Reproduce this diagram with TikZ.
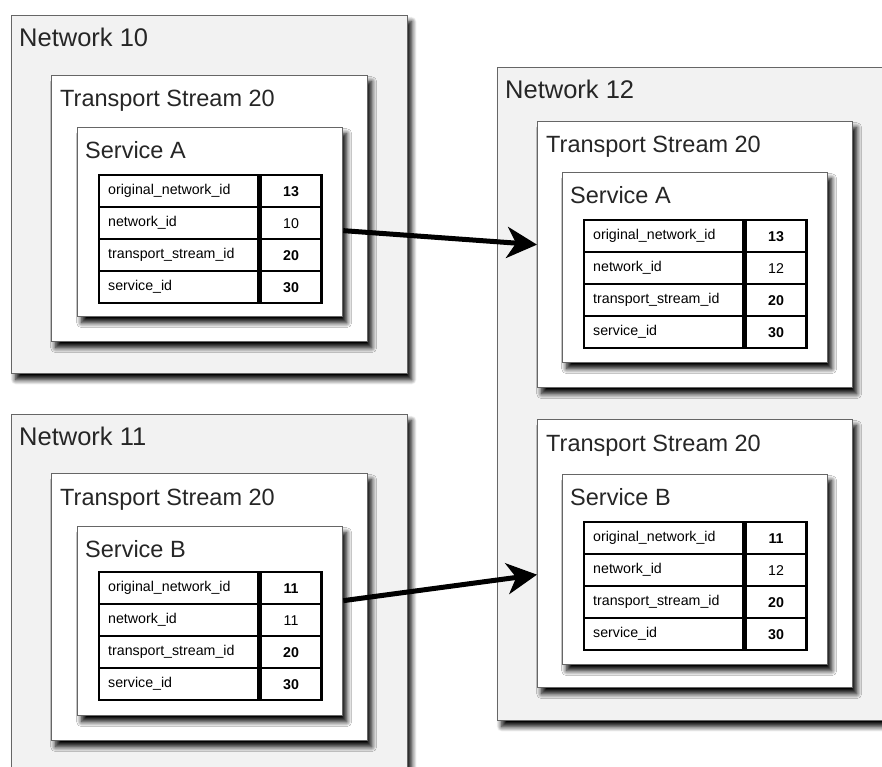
\documentclass[tikz,border=0pt]{standalone}
\usepackage{fontspec}
\setmainfont{Liberation Sans}
\usetikzlibrary{arrows.meta, shadows.blur}

\definecolor{netfill}{HTML}{F2F2F2}
\definecolor{boxedge}{HTML}{666666}

% one id table: name, north west corner, then the four values
\newcommand{\idtable}[6]{%
  \foreach[count=\i] \key/\val in {original\_network\_id/\textbf{#3}, network\_id/#4,
      transport\_stream\_id/\textbf{#5}, service\_id/\textbf{#6}} {
    \node[keycell, yshift={-32*(\i-1)}] (#1-k\i) at (#2) {\key};
    \node[valcell] (#1-v\i) at (#1-k\i.north east) {\val};
  }
}

\begin{document}
\begin{tikzpicture}[x=1pt, y=-1pt,
    shade/.style={blur shadow={shadow xshift=4pt, shadow yshift=-6pt,
        shadow blur radius=5pt, shadow blur steps=10, shadow opacity=100}},
    netbox/.style={draw=boxedge, line width=1.3pt, fill=netfill, shade,
        anchor=north west, inner sep=0pt},
    inbox/.style={draw=boxedge, line width=1.3pt, fill=white, shade,
        anchor=north west, inner sep=0pt},
    title/.style={anchor=base west, inner sep=0pt,
        font=\fontsize{23.5}{28}\selectfont, text=black!85},
    nettitle/.style={title, font=\fontsize{25.5}{30}\selectfont},
    keycell/.style={draw, line width=2.4pt, fill=white, anchor=north west,
        minimum width=159pt, minimum height=32pt, inner xsep=9pt,
        text width=141pt, align=left, font=\fontsize{14.2}{17}\selectfont},
    valcell/.style={draw, line width=2.4pt, fill=white, anchor=north west,
        minimum width=61pt, minimum height=32pt,
        font=\fontsize{14.2}{17}\selectfont},
    link/.style={line width=5pt, -{Stealth[length=30pt, width=31pt, inset=9pt]}}]

  \useasboundingbox (0,0) rectangle (882,767);
  \clip (0,0) rectangle (882,767);

  % left side
  \node[netbox, minimum width=396pt, minimum height=358pt] (net10) at (11,15) {};
  \node[nettitle] (net10-t) at ([xshift=8pt, yshift=-31.5pt]net10.north west) {Network 10};
  \node[inbox, minimum width=316pt, minimum height=266pt] (ts10) at (51,75) {};
  \node[title] (ts10-t) at ([xshift=9pt, yshift=-32pt]ts10.north west) {Transport Stream 20};
  \node[inbox, minimum width=265pt, minimum height=189pt] (svcA) at (77,127) {};
  \node[title] (svcA-t) at ([xshift=8pt, yshift=-31.5pt]svcA.north west) {Service A};
  \idtable{tabA}{98,174}{13}{10}{20}{30}

  \node[netbox, minimum width=396pt, minimum height=400pt] (net11) at (11,414) {};
  \node[nettitle] (net11-t) at ([xshift=8pt, yshift=-31.5pt]net11.north west) {Network 11};
  \node[inbox, minimum width=316pt, minimum height=267pt] (ts11) at (51,473) {};
  \node[title] (ts11-t) at ([xshift=9pt, yshift=-32pt]ts11.north west) {Transport Stream 20};
  \node[inbox, minimum width=265pt, minimum height=189pt] (svcB) at (77,526) {};
  \node[title] (svcB-t) at ([xshift=8pt, yshift=-31.5pt]svcB.north west) {Service B};
  \idtable{tabB}{98,571}{11}{11}{20}{30}

  % right side
  \node[netbox, minimum width=400pt, minimum height=653pt] (net12) at (497,67) {};
  \node[nettitle] (net12-t) at ([xshift=8pt, yshift=-31.5pt]net12.north west) {Network 12};
  \node[inbox, minimum width=315pt, minimum height=266pt] (ts12a) at (537,121) {};
  \node[title] (ts12a-t) at ([xshift=9pt, yshift=-32pt]ts12a.north west) {Transport Stream 20};
  \node[inbox, minimum width=265pt, minimum height=190pt] (svc12A) at (562,172) {};
  \node[title] (svc12A-t) at ([xshift=8pt, yshift=-31.5pt]svc12A.north west) {Service A};
  \idtable{tab12A}{583,219}{13}{12}{20}{30}

  \node[inbox, minimum width=315pt, minimum height=268pt] (ts12b) at (537,419) {};
  \node[title] (ts12b-t) at ([xshift=9pt, yshift=-32pt]ts12b.north west) {Transport Stream 20};
  \node[inbox, minimum width=265pt, minimum height=190pt] (svc12B) at (562,474) {};
  \node[title] (svc12B-t) at ([xshift=8pt, yshift=-31.5pt]svc12B.north west) {Service B};
  \idtable{tab12B}{583,521}{11}{12}{20}{30}

  % arrows
  \draw[link] ([yshift=-8.5pt]svcA.east) -- ([yshift=10pt]ts12a.west);
  \draw[link] ([yshift=20.5pt]svcB.east) -- ([yshift=-21pt]ts12b.west);
\end{tikzpicture}
\end{document}
